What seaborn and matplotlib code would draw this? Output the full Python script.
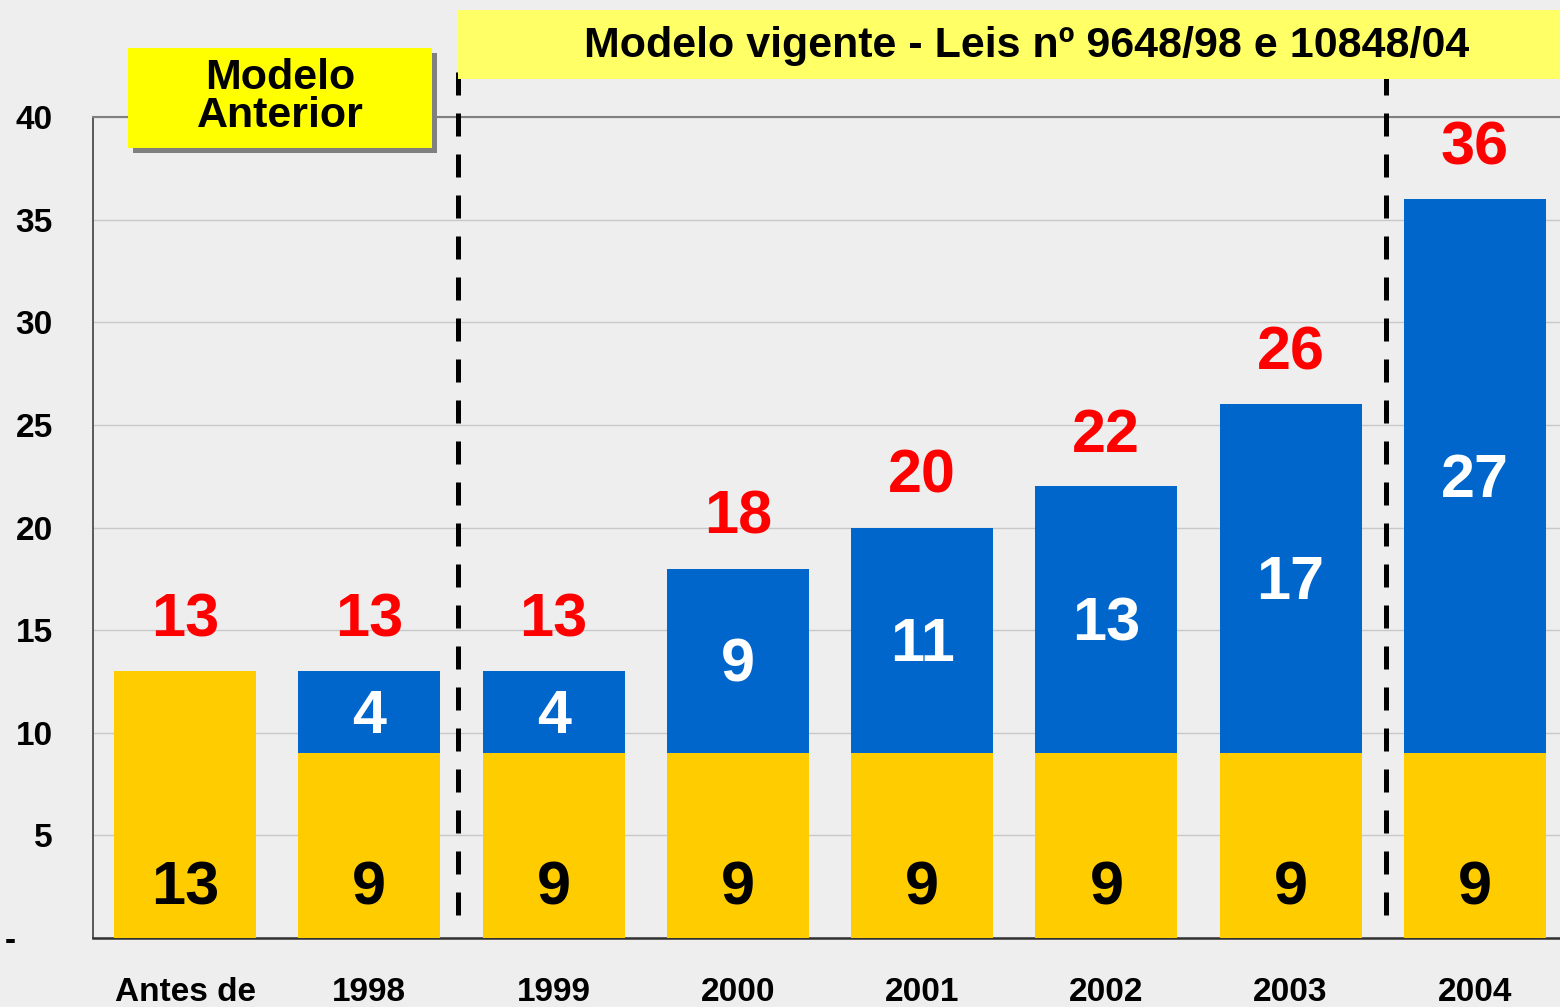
import numpy as np
import pandas as pd
import matplotlib
matplotlib.use("Agg")
import matplotlib.pyplot as plt
from matplotlib.patches import Rectangle
import seaborn as sns

# ---- data ----
categories = ["Antes de", "1998", "1999", "2000", "2001", "2002", "2003", "2004"]
base_values = [13, 9, 9, 9, 9, 9, 9, 9]          # yellow (bottom) segment
added_values = [0, 4, 4, 9, 11, 13, 17, 27]       # blue (top) segment
ytick_values = [0, 5, 10, 15, 20, 25, 30, 35, 40]
ytick_labels = ["-    ", "5", "10", "15", "20", "25", "30", "35", "40"]
box_left_text = "Modelo\nAnterior"
box_right_text = "Modelo vigente - Leis nº 9648/98 e 10848/04"

totals = [b + a for b, a in zip(base_values, added_values)]
df = pd.DataFrame({"cat": categories, "base": base_values,
                   "added": added_values, "total": totals})

YELLOW = "#FFCC00"
BLUE = "#0066CC"
RED = "#FF0000"
BG = "#EEEEEE"

sns.set_style("white")
plt.rcParams["font.family"] = ["Liberation Sans", "DejaVu Sans"]
plt.rcParams["font.weight"] = "bold"
plt.rcParams["text.color"] = "black"
plt.rcParams["xtick.labelcolor"] = "black"
plt.rcParams["ytick.labelcolor"] = "black"

W, H = 1560, 1007
fig = plt.figure(figsize=(W / 100, H / 100), dpi=100)
fig.patch.set_facecolor(BG)
# axes extends slightly past the right edge of the figure, as in the reference
ax = fig.add_axes([93 / W, (H - 938) / H, 1474 / W, (938 - 117) / H])
ax.set_facecolor(BG)

# stacked bars: full total in blue, then yellow base over it
sns.barplot(data=df, x="cat", y="total", color=BLUE, saturation=1, width=0.77,
            errorbar=None, linewidth=0, zorder=3, ax=ax)
sns.barplot(data=df, x="cat", y="base", color=YELLOW, saturation=1, width=0.77,
            errorbar=None, linewidth=0, zorder=4, ax=ax)

for i, (b, a, t) in enumerate(zip(base_values, added_values, totals)):
    ax.text(i, t + 1.7, str(t), color=RED, fontsize=44, fontweight="bold",
            ha="center", va="baseline", zorder=6)
    if a > 0:
        ax.text(i, b + a / 2 - 0.25, str(a), color="white", fontsize=44,
                fontweight="bold", ha="center", va="center", zorder=6)
    ax.text(i, 2.4, str(b), color="black", fontsize=44, fontweight="bold",
            ha="center", va="center", zorder=6)

ax.set_xlim(-0.5, 7.5)
ax.set_ylim(0, 40)
ax.set_xlabel("")
ax.set_ylabel("")
ax.set_yticks(ytick_values, ytick_labels)
ax.tick_params(axis="y", length=8, width=1, color="#404040", pad=21,
               labelsize=24, labelcolor="black")
ax.tick_params(axis="x", which="major", length=0, pad=28, labelsize=24,
               labelcolor="black")
ax.set_xticks(np.arange(-0.5, 8, 1), minor=True)
ax.tick_params(axis="x", which="minor", length=7, width=1, color="#404040")
for lab in ax.get_xticklabels() + ax.get_yticklabels():
    lab.set_fontweight("bold")

ax.yaxis.grid(True, color="#C8C8C8", lw=1)
ax.set_axisbelow(True)
ax.spines["right"].set_visible(False)
ax.spines["left"].set_color("#404040")
ax.spines["left"].set_linewidth(1.2)
ax.spines["bottom"].set_color("#303030")
ax.spines["bottom"].set_linewidth(1.8)
ax.spines["top"].set_color("#808080")
ax.spines["top"].set_linewidth(1.5)

# dashed separators between models
for xv in (1.48, 6.52):
    ax.axvline(xv, ymin=0.028, ymax=1.063, color="black", lw=3.6,
               linestyle=(0, (4.6, 3.6)), clip_on=False, zorder=5)

# header boxes
fig.patches.append(Rectangle((133 / W, (H - 153) / H), 304 / W, 100 / H,
                             transform=fig.transFigure, facecolor="#808080",
                             edgecolor="none", zorder=1))
fig.patches.append(Rectangle((128 / W, (H - 148) / H), 304 / W, 100 / H,
                             transform=fig.transFigure, facecolor="#FFFF00",
                             edgecolor="none", zorder=2))
fig.text(280 / W, (H - 97) / H, box_left_text, ha="center", va="center",
         fontsize=31, fontweight="bold", linespacing=0.92, zorder=3)
fig.patches.append(Rectangle((458 / W, (H - 79) / H), (W - 458) / W, 69 / H,
                             transform=fig.transFigure, facecolor="#FFFF66",
                             edgecolor="none", zorder=2))
fig.text(1027 / W, (H - 46) / H, box_right_text, ha="center", va="center",
         fontsize=31, fontweight="bold", zorder=3)

fig.savefig("out.png", dpi=100, facecolor=fig.get_facecolor())
